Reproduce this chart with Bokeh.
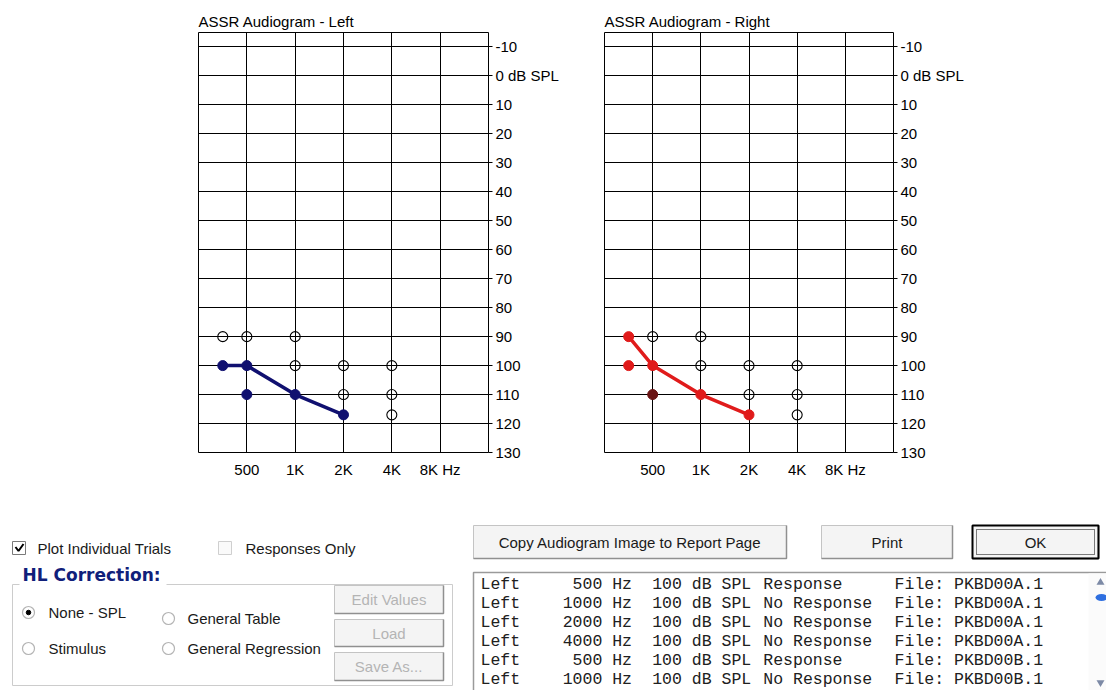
from bokeh.plotting import figure
from bokeh.models import Range1d, FixedTicker
from bokeh.layouts import column, row
from bokeh.embed import file_html
from bokeh.resources import INLINE
from bokeh.core.properties import value

# ---------------- data ----------------
freq_ticks = [500, 1000, 2000, 4000, 8000]
freq_labels = ["500", "1K", "2K", "4K", "8K Hz"]
db_ticks = [-10, 0, 10, 20, 30, 40, 50, 60, 70, 80, 90, 100, 110, 120, 130]
db_labels = ["-10", "0 dB SPL", "10", "20", "30", "40", "50", "60", "70", "80",
             "90", "100", "110", "120", "130"]

# Left ear
left_resp_freq = [354, 500, 500, 1000, 2000]
left_resp_db = [100, 100, 110, 110, 117]
left_noresp_freq = [354, 500, 1000, 1000, 2000, 2000, 4000, 4000, 4000]
left_noresp_db = [90, 90, 90, 100, 100, 110, 100, 110, 117]
left_thr_freq = [354, 500, 1000, 2000]
left_thr_db = [100, 100, 110, 117]

# Right ear
right_resp_freq = [354, 354, 500, 1000, 2000]
right_resp_db = [90, 100, 100, 110, 117]
right_dark_freq = [500]
right_dark_db = [110]
right_noresp_freq = [500, 1000, 1000, 2000, 2000, 4000, 4000, 4000]
right_noresp_db = [90, 90, 100, 100, 110, 100, 110, 117]
right_thr_freq = [354, 500, 1000, 2000]
right_thr_db = [90, 100, 110, 117]

# list box rows
rows_side = ["Left", "Left", "Left", "Left", "Left", "Left"]
rows_freq = ["500 Hz", "1000 Hz", "2000 Hz", "4000 Hz", "500 Hz", "1000 Hz"]
rows_level = ["100 dB SPL"] * 6
rows_resp = ["Response", "No Response", "No Response", "No Response", "Response", "No Response"]
rows_file = ["File: PKBD00A.1"] * 4 + ["File: PKBD00B.1"] * 2

FONT = "Liberation Sans"
NAVY = "#101070"
RED = "#e01b1b"


def audiogram(title, bl, fw, br, resp, noresp, thr, color, dark=None):
    p = figure(width=bl + fw + br, height=32 + 420 + 40,
               x_axis_type="log", x_range=Range1d(250, 16000), y_range=Range1d(130, -15),
               y_axis_location="right", output_backend="svg", toolbar_location=None,
               min_border_left=bl, min_border_right=br, min_border_top=32, min_border_bottom=40)
    p.background_fill_color = "white"
    p.border_fill_color = "white"
    p.outline_line_color = "black"
    p.outline_line_width = 1

    p.title.text = title
    p.title.align = "left"
    p.title.text_font = FONT
    p.title.text_font_size = "15px"
    p.title.text_font_style = "normal"
    p.title.text_color = "black"
    p.title.standoff = 5
    p.title.offset = 0

    p.xaxis.ticker = FixedTicker(ticks=freq_ticks)
    p.xaxis.major_label_overrides = dict(zip(freq_ticks, freq_labels))
    p.xaxis.major_tick_out = 0
    p.xaxis.major_tick_in = 0
    p.xaxis.major_tick_line_color = None
    p.xaxis.minor_tick_line_color = None
    p.xaxis.axis_line_color = None
    p.xaxis.major_label_standoff = 8

    p.yaxis.ticker = FixedTicker(ticks=db_ticks)
    p.yaxis.major_label_overrides = dict(zip(db_ticks, db_labels))
    p.yaxis.major_tick_out = 4
    p.yaxis.major_tick_in = 0
    p.yaxis.major_tick_line_color = "black"
    p.yaxis.minor_tick_line_color = None
    p.yaxis.axis_line_color = None
    p.yaxis.major_label_standoff = 3

    for ax in (p.xaxis, p.yaxis):
        ax.major_label_text_font = FONT
        ax.major_label_text_font_size = "15px"
        ax.major_label_text_color = "black"

    p.xgrid.ticker = FixedTicker(ticks=freq_ticks)
    p.ygrid.ticker = FixedTicker(ticks=db_ticks[:-1])
    for g in (p.xgrid, p.ygrid):
        g.grid_line_color = "black"
        g.grid_line_alpha = 1
        g.grid_line_width = 1

    p.line(thr[0], thr[1], line_color=color, line_width=3.5)
    p.scatter(noresp[0], noresp[1], marker="circle", size=10, fill_color=None,
              line_color="black", line_width=1.1)
    p.scatter(resp[0], resp[1], marker="circle", size=10, fill_color=color,
              line_color=color)
    if dark is not None:
        p.scatter(dark[0], dark[1], marker="circle", size=10, fill_color="#6a1414",
                  line_color="#6a1414")
    return p


pL = audiogram("ASSR Audiogram - Left", 198, 290, 80,
               (left_resp_freq, left_resp_db), (left_noresp_freq, left_noresp_db),
               (left_thr_freq, left_thr_db), NAVY)
pR = audiogram("ASSR Audiogram - Right", 36, 289, 80,
               (right_resp_freq, right_resp_db), (right_noresp_freq, right_noresp_db),
               (right_thr_freq, right_thr_db), RED, dark=(right_dark_freq, right_dark_db))

# ---------------- dialog controls (page pixel coordinates) ----------------
ui = figure(width=1106, height=198, x_range=Range1d(0, 1106), y_range=Range1d(690, 492),
            x_axis_location=None, y_axis_location=None, output_backend="svg",
            toolbar_location=None, min_border_left=0, min_border_right=0,
            min_border_top=0, min_border_bottom=0)
ui.grid.visible = False
ui.outline_line_color = None
ui.background_fill_color = "white"
ui.border_fill_color = "white"

TXT = "#1a1a1a"


def txt(x, y, s, align="left", color=TXT, size="15px", font=FONT, style="normal"):
    ui.text([x], [y], text=[s], text_align=align, text_baseline="middle",
            text_color=color, text_font_size=size, text_font=value(font),
            text_font_style=style)


def button(l, r, t, b, label, enabled=True, default=False):
    ui.quad(left=[l], right=[r], top=[t], bottom=[b], fill_color="#f4f4f4",
            line_color="#c4c4c4", line_width=1)
    ui.line([l, r, r], [b, b, t], line_color="#909090", line_width=1.5)
    if default:
        ui.quad(left=[l], right=[r], top=[t], bottom=[b], fill_color=None,
                line_color="black", line_width=2)
        ui.quad(left=[l + 4], right=[r - 4], top=[t + 4], bottom=[b - 4], fill_color=None,
                line_color="black", line_width=1, line_dash="1 1")
    txt((l + r) / 2, (t + b) / 2, label, align="center",
        color=TXT if enabled else "#b4b4b4")


# checkboxes
ui.quad(left=[12], right=[25], top=[541], bottom=[554], fill_color="white",
        line_color="#7a7a7a", line_width=1)
ui.line([15, 18, 23], [546.5, 550.5, 543.5], line_color="black", line_width=2)
txt(37, 548, "Plot Individual Trials")
ui.quad(left=[218], right=[231], top=[541], bottom=[554], fill_color="#fafafa",
        line_color="#cfcfcf", line_width=1)
txt(245, 548, "Responses Only")

# group box
ui.line([19, 12, 12, 452, 452, 166], [584, 584, 685, 685, 584, 584],
        line_color="#cccccc", line_width=1)
txt(22, 574, "HL Correction:", color="#10207a", size="17px", font="DejaVu Sans", style="bold")

# radio buttons
ui.scatter([28, 168, 28, 168], [612, 618, 648, 648], marker="circle", size=12,
           fill_color="white", line_color="#b4b4b4", line_width=1.2)
ui.scatter([28], [612], marker="circle", size=4.5, fill_color="black", line_color="black")
txt(48, 612, "None - SPL")
txt(187, 618, "General Table")
txt(48, 648, "Stimulus")
txt(187, 648, "General Regression")

button(334, 443, 585, 613, "Edit Values", enabled=False)
button(334, 443, 619, 646, "Load", enabled=False)
button(334, 443, 652, 680, "Save As...", enabled=False)

# top buttons
button(473, 786, 525, 558, "Copy Audiogram Image to Report Page")
button(821, 952, 525, 558, "Print")
button(972, 1098, 525, 558, "OK", default=True)

# list box
ui.quad(left=[473], right=[1110], top=[572], bottom=[700], fill_color="white",
        line_color="#9a9a9a", line_width=1.5)
ui.quad(left=[1088], right=[1106], top=[573], bottom=[700], fill_color="#fbfbfb",
        line_color=None)
ui.scatter([1100], [582], marker="triangle", size=8, fill_color="#7d8aa6", line_color=None)
ui.ellipse([1101], [597], width=12, height=7, fill_color="#2f6fe0", line_color=None)
ui.scatter([1100], [682], marker="inverted_triangle", size=8, fill_color="#7d8aa6", line_color=None)

CW = 10.1
X0 = 480
row_y = [583.5 + 19.1 * i for i in range(len(rows_side))]
mono = dict(text_baseline="middle", text_color="#202020", text_font_size="16.5px",
            text_font=value("Liberation Mono"))
ui.text([X0] * len(row_y), row_y, text=rows_side, text_align="left", **mono)
ui.text([X0 + 15 * CW] * len(row_y), row_y, text=rows_freq, text_align="right", **mono)
ui.text([X0 + 17 * CW] * len(row_y), row_y, text=rows_level, text_align="left", **mono)
ui.text([X0 + 28 * CW] * len(row_y), row_y, text=rows_resp, text_align="left", **mono)
ui.text([X0 + 41 * CW] * len(row_y), row_y, text=rows_file, text_align="left", **mono)

layout = column(row(pL, pR), ui)
open("out.html", "w").write(file_html(layout, INLINE))
